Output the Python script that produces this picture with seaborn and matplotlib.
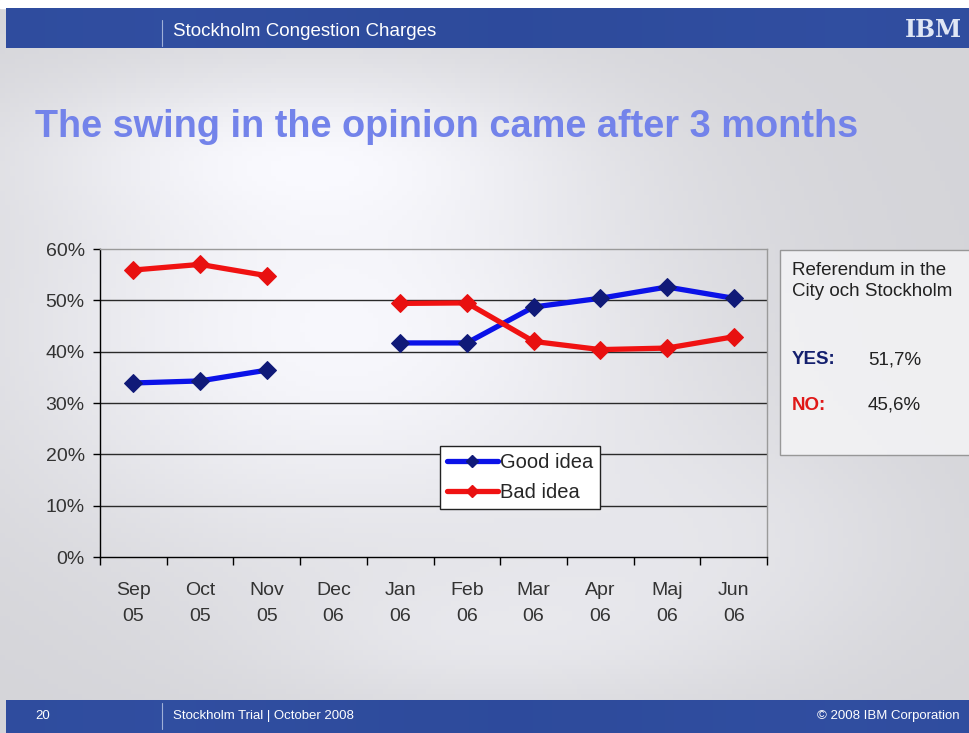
import numpy as np
import pandas as pd
import matplotlib
matplotlib.use("Agg")
import matplotlib.pyplot as plt
import seaborn as sns
from matplotlib.lines import Line2D
from matplotlib.patches import Rectangle
from matplotlib.ticker import FixedLocator, NullFormatter, PercentFormatter

# Opinion poll data (share of respondents, %), Dec 05/06 has no poll
months = ["Sep\n05", "Oct\n05", "Nov\n05", "Dec\n06", "Jan\n06",
          "Feb\n06", "Mar\n06", "Apr\n06", "Maj\n06", "Jun\n06"]
good_idea = [33.9, 34.3, 36.4, np.nan, 41.7, 41.7, 48.7, 50.4, 52.6, 50.4]
bad_idea = [55.9, 57.0, 54.8, np.nan, 49.4, 49.5, 42.0, 40.4, 40.7, 42.9]
period = [1, 1, 1, 1, 2, 2, 2, 2, 2, 2]
y_ticks = [0, 10, 20, 30, 40, 50, 60]

referendum_yes = "51,7%"
referendum_no = "45,6%"

pos = list(range(len(months)))
df = pd.concat([
    pd.DataFrame({"pos": pos, "share": good_idea, "opinion": "Good idea", "period": period}),
    pd.DataFrame({"pos": pos, "share": bad_idea, "opinion": "Bad idea", "period": period}),
], ignore_index=True)

sns.set_theme(style="white")
plt.rcParams["font.family"] = ["Liberation Sans", "DejaVu Sans"]

W, H = 969, 733
fig = plt.figure(figsize=(W / 100, H / 100), dpi=100)
fig.patch.set_facecolor("white")

# slide background: soft grey with whitish clouds
bg = fig.add_axes([0, 0, 1, 1], zorder=-10)
gx, gy = np.meshgrid(np.linspace(0, 1, 200), np.linspace(0, 1, 150))
v = 0.84 + 0.14 * np.exp(-((gx - 0.35) ** 2 / 0.12 + (gy - 0.45) ** 2 / 0.10))
v += 0.07 * np.exp(-((gx - 0.3) ** 2 / 0.08 + (gy - 0.2) ** 2 / 0.01))
v += 0.05 * np.exp(-((gx - 0.75) ** 2 / 0.05 + (gy - 0.75) ** 2 / 0.03))
v += 0.05 * np.exp(-((gx - 0.5) ** 2 / 0.06 + (gy - 0.88) ** 2 / 0.01))
v = np.clip(v, 0, 1)
img = np.dstack([v * 0.99, v * 0.99, np.clip(v * 1.01, 0, 1)])
bg.imshow(img, aspect="auto", extent=[0, 1, 0, 1], origin="upper")
bg.add_patch(Rectangle((0, 1 - 8 / H), 1, 8 / H, color="white"))
bg.set_xlim(0, 1)
bg.set_ylim(0, 1)
bg.axis("off")

# header and footer bands
def band(y0, h):
    a = fig.add_axes([0.006, y0, 0.994, h], zorder=-5)
    bx = np.linspace(0, 1, 300)[None, :]
    shade = 0.5 + 0.5 * np.sin(bx * 9) * 0.2
    col = np.dstack([0.16 + 0.05 * shade, 0.27 + 0.06 * shade, 0.58 + 0.08 * shade])
    a.imshow(col, aspect="auto", extent=[0, 1, 0, 1])
    a.axis("off")
    return a

band(1 - 48 / H, 40 / H)
band(0, 33 / H)
fig.add_artist(Line2D([162 / W, 162 / W], [1 - 46 / H, 1 - 20 / H], color="#9fb0d8", lw=0.8))
fig.add_artist(Line2D([162 / W, 162 / W], [4 / H, 30 / H], color="#9fb0d8", lw=0.8))
fig.text(173 / W, 1 - 31 / H, "Stockholm Congestion Charges", color="white",
         fontsize=13.5, va="center", ha="left")
fig.text(962 / W, 1 - 30 / H, "IBM", color="#dfe6f5", fontsize=17, fontweight="bold",
         family="DejaVu Serif", va="center", ha="right")
fig.text(35 / W, 17 / H, "20", color="white", fontsize=9.5, va="center")
fig.text(173 / W, 17 / H, "Stockholm Trial | October 2008", color="white", fontsize=9.5, va="center")
fig.text(960 / W, 17 / H, "\u00a9 2008 IBM Corporation", color="white", fontsize=9.5,
         va="center", ha="right")

# title
fig.text(35 / W, 1 - 127 / H, "The swing in the opinion came after 3 months",
         color="#7383ea", fontsize=27.3, fontweight="bold", va="center", ha="left")

# chart
ax = fig.add_axes([100 / W, 1 - 557 / H, 667 / W, 308 / H])
ax.patch.set_alpha(0)
palette = {"Good idea": "#0b12e8", "Bad idea": "#f01212"}
sns.lineplot(data=df, x="pos", y="share", hue="opinion", units="period",
             estimator=None, palette=palette, marker="D", markersize=9,
             linewidth=3.8, legend=False, ax=ax, zorder=3)
for ln in ax.lines:
    if ln.get_color() == palette["Good idea"]:
        ln.set_markerfacecolor("#101a78")
        ln.set_markeredgecolor("#101a78")
    else:
        ln.set_markerfacecolor("#e81010")
        ln.set_markeredgecolor("#e81010")

ax.set_xlim(-0.5, len(months) - 0.5)
ax.set_ylim(0, 60)
ax.set_xticks(pos)
ax.set_xticklabels(months, linespacing=1.7)
ax.xaxis.set_minor_locator(FixedLocator(np.arange(-0.5, len(months), 1)))
ax.xaxis.set_minor_formatter(NullFormatter())
ax.tick_params(axis="x", which="major", length=0, pad=18, labelsize=14, labelcolor="#333333")
ax.tick_params(axis="x", which="minor", length=6, width=1, color="black", bottom=True, direction="out")
ax.set_yticks(y_ticks)
ax.yaxis.set_major_formatter(PercentFormatter(decimals=0))
ax.tick_params(axis="y", length=5, width=1, color="black", left=True, direction="out",
               pad=6, labelsize=14, labelcolor="#333333")
for t in y_ticks[1:-1]:
    ax.axhline(t, color="#2a2a2a", lw=1, zorder=1)
ax.set_xlabel("")
ax.set_ylabel("")
for side in ["left", "bottom"]:
    ax.spines[side].set_color("black")
    ax.spines[side].set_linewidth(1)
for side in ["top", "right"]:
    ax.spines[side].set_color("#9a9a9a")
    ax.spines[side].set_linewidth(1)

handles = [
    Line2D([], [], color=palette["Good idea"], lw=3.8, marker="D", markersize=6,
           markerfacecolor="#101a78", markeredgecolor="#101a78"),
    Line2D([], [], color=palette["Bad idea"], lw=3.8, marker="D", markersize=6,
           markerfacecolor="#e81010", markeredgecolor="#e81010"),
]
leg = ax.legend(handles, ["Good idea", "Bad idea"], loc="upper left",
                bbox_to_anchor=(0.51, 0.362), frameon=True, fancybox=False,
                fontsize=14.5, handlelength=2.5, handletextpad=0.1,
                borderpad=0.35, labelspacing=0.55, borderaxespad=0)
leg.get_frame().set_edgecolor("#222222")
leg.get_frame().set_facecolor("white")
leg.get_frame().set_alpha(1)
leg.get_frame().set_linewidth(1)

# referendum box
fig.add_artist(Rectangle((780 / W, 1 - 455 / H), 200 / W, 205 / H,
                         facecolor="#f4f4f6", edgecolor="#8a8a8a", lw=1, alpha=0.85))
fig.text(792 / W, 1 - 281 / H, "Referendum in the\nCity och Stockholm", fontsize=13.5,
         color="#222222", va="center", ha="left", linespacing=1.3)
fig.text(792 / W, 1 - 360 / H, "YES:", fontsize=13.5, fontweight="bold", color="#14206e",
         va="center", ha="left")
fig.text(868 / W, 1 - 360 / H, referendum_yes, fontsize=13.5, color="#222222",
         va="center", ha="left")
fig.text(792 / W, 1 - 405 / H, "NO:", fontsize=13.5, fontweight="bold", color="#e01818",
         va="center", ha="left")
fig.text(868 / W, 1 - 405 / H, referendum_no, fontsize=13.5, color="#222222",
         va="center", ha="left")

fig.savefig("out.png", dpi=100)
